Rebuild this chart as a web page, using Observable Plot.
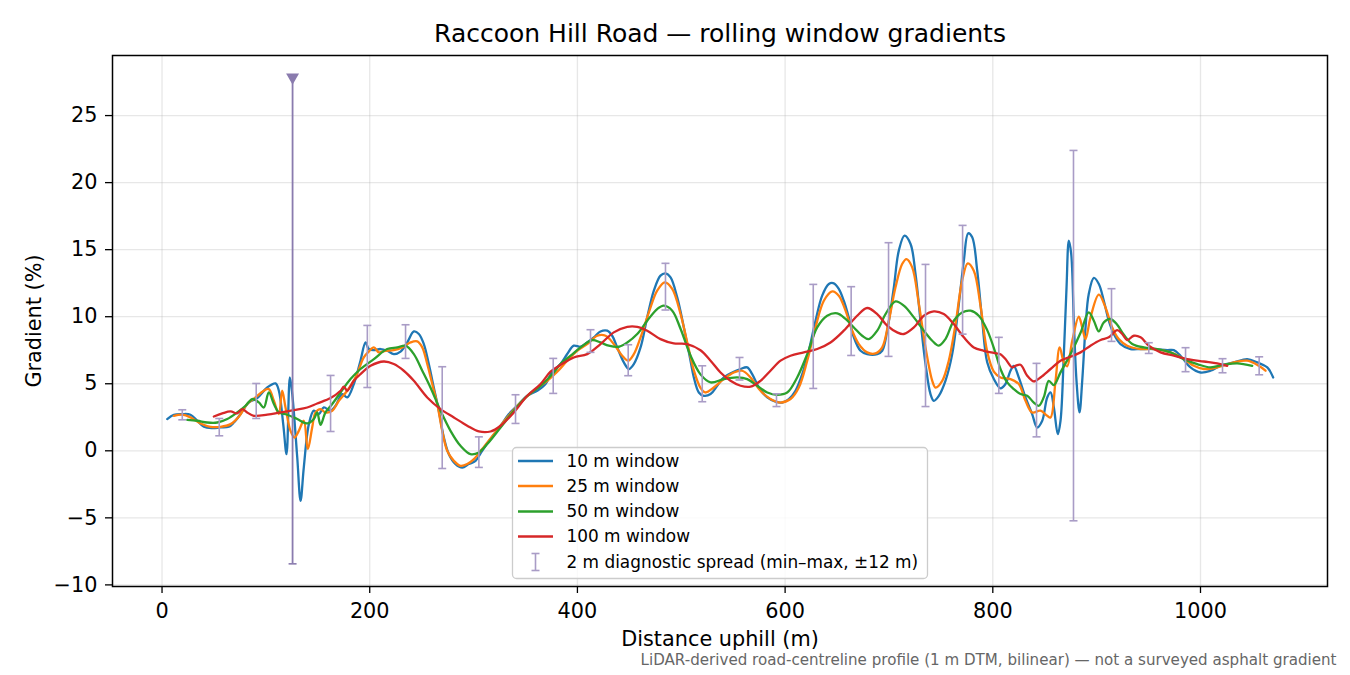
<!DOCTYPE html>
<html>
<head>
<meta charset="utf-8">
<script src="https://cdn.jsdelivr.net/npm/d3@7"></script>
<script src="https://cdn.jsdelivr.net/npm/@observablehq/plot@0.6"></script>
<style>
  html, body { margin: 0; padding: 0; background: #fff; }
  #wrap { position: relative; width: 1350px; height: 675px; font-family: "DejaVu Sans", sans-serif; }
  #legend { position: absolute; left: 0; top: 0; pointer-events: none; }
</style>
</head>
<body>
<div id="wrap"></div>
<script>
// ---------- data (distance m, gradient %) ----------
const w10 = [[5.0,2.37],[11.4,2.69],[19.5,2.74],[27.4,2.69],[33.9,2.24],[40.3,1.79],[48.3,1.69],[56.3,1.74],[64.3,1.79],[69.2,2.11],[75.6,2.74],[83.6,3.61],[91.7,3.93],[101.3,4.72],[109.3,5.03],[112.5,4.48],[116.7,1.99],[119.9,-0.25],[123.1,5.47],[125.4,4.23],[130.2,-0.5],[133.4,-3.73],[136.5,-1.25],[141.4,1.99],[146.2,2.99],[151,2.74],[155.8,3.23],[162.3,2.99],[167.1,3.36],[173.5,4.23],[178.3,3.98],[184.7,4.98],[191.1,6.72],[196,8.08],[199.1,7.59],[204,7.51],[210.4,7.59],[216.8,7.46],[223.2,7.21],[229.7,7.4],[236.1,8.08],[242.5,8.9],[247.3,8.71],[252.1,7.96],[256.9,6.47],[261.7,4.72],[266.5,2.99],[271.4,0.99],[276.2,-0.25],[282.6,-0.99],[289.1,-1.25],[295.4,-0.99],[301.9,-0.75],[308.3,0],[316.3,0.87],[326,1.87],[334,2.74],[342,3.36],[351.7,4.1],[361.3,4.48],[369.3,4.98],[375.7,5.9],[383.7,6.47],[390,7.2],[396.5,7.84],[403,7.76],[409.4,8.08],[415.8,8.46],[422.2,8.9],[428.7,8.96],[433.5,8.58],[438.3,7.71],[444.7,6.59],[449.5,6.1],[454.3,6.47],[460.8,7.71],[467.2,9.95],[473.6,11.94],[480,13.06],[484.8,13.23],[489.7,12.93],[496.1,11.44],[502.5,9.2],[508.9,6.72],[512.1,5.47],[516.9,4.35],[521.7,4.1],[528.2,4.23],[534.6,4.85],[541,5.47],[549.1,5.84],[557.1,6.1],[563.5,6.22],[568.3,5.72],[574.7,4.72],[582.8,3.98],[590.8,3.66],[597.2,3.6],[603.6,3.86],[610,4.48],[616.5,5.72],[622.8,7.46],[629.3,9.7],[635.7,11.57],[642.1,12.44],[646.9,12.49],[651.7,12.07],[656.5,11.19],[661.3,9.95],[666.2,8.46],[672.6,7.46],[679,7.21],[688.7,7.21],[693.5,7.46],[698.3,8.96],[704.7,12.19],[709.5,14.93],[715,16.04],[720.8,15.42],[725.6,13.18],[730.4,9.7],[735.2,6.47],[740,4.23],[743.2,3.73],[748,4.1],[754.4,5.22],[760.9,7.21],[767.3,10.95],[772.1,14.18],[776.3,16.22],[780.2,15.92],[785,13.43],[789.8,9.7],[794.6,6.6],[801,5.35],[807.4,4.66],[812.2,4.98],[817,5.97],[820.2,6.34],[825,5.47],[831.5,3.98],[837.9,2.74],[842.7,1.74],[847.6,2.24],[852.4,3.98],[855.6,4.35],[858.8,3.23],[862.6,1.24],[865.2,2.24],[868.4,7.21],[871,12.19],[873.2,15.67],[875.5,14.68],[878,9.7],[880.6,5.22],[883.5,2.86],[886.1,5.22],[889.3,9.2],[892.4,11.69],[897.3,12.89],[902.1,12.44],[906.9,11.19],[911.7,9.7],[916.5,8.71],[923,7.96],[932.6,7.59],[942.3,7.59],[955,7.59],[968,7.51],[974.3,7.51],[980.7,7.09],[990.4,6.22],[1000,5.84],[1009.6,5.97],[1019.3,6.34],[1032,6.59],[1045,6.84],[1054.7,6.59],[1064.3,6.22],[1070,5.47]];

const w25 = [[11.4,2.61],[19.5,2.69],[27.4,2.49],[37.1,2.04],[46.7,1.79],[56.3,1.79],[66,1.99],[73.9,2.54],[82,3.49],[90,3.98],[98,4.48],[102.8,4.6],[107.7,3.73],[112.5,2.74],[115.7,4.48],[118.9,3.23],[123.7,1.49],[127.6,0.99],[131.7,1.49],[136.5,2.24],[140.4,0.13],[144.6,1.74],[147.8,2.86],[152.6,3.11],[157.4,2.86],[163.9,2.99],[170.3,3.73],[178.3,4.48],[186.3,5.47],[194.3,6.96],[199.1,7.4],[204,7.71],[208.8,7.34],[215.2,7.46],[223.2,7.51],[231.3,7.71],[239.3,8.08],[245.7,8.16],[250.6,7.71],[255.4,6.47],[260.2,4.98],[265,3.49],[269.8,1.49],[274.6,0],[281,-0.75],[287.4,-1.12],[293.9,-0.99],[300.3,-0.62],[308.3,0.13],[319.5,1.24],[332.4,2.49],[345.2,3.6],[358,4.48],[370.9,5.22],[380.6,5.9],[390.2,6.72],[399.8,7.46],[409.4,7.96],[419.1,8.58],[427.1,8.58],[435,7.96],[443.1,7.09],[448.9,6.72],[454.3,7.21],[460.8,8.46],[468.8,10.32],[476.8,11.94],[484.2,12.56],[491.3,12.07],[499.3,10.2],[505.7,8.1],[512.1,6.0],[518.5,4.7],[523.3,4.35],[531.3,4.72],[541,5.35],[550.6,5.84],[558.7,5.97],[566.7,5.47],[576.3,4.48],[585.9,3.86],[595.6,3.6],[605.2,3.86],[613.2,4.72],[621.3,6.72],[629.3,9.2],[637.3,11.19],[645.4,11.89],[651.7,11.57],[658.2,10.45],[664.6,8.96],[671,7.96],[679,7.34],[687,7.26],[693.5,7.71],[699.9,9.7],[706.3,12.19],[712.7,13.93],[716.9,14.3],[722.4,13.68],[728.8,10.95],[735.2,7.71],[741.7,5.22],[744.8,4.72],[751.3,5.22],[757.6,6.72],[764.1,9.45],[770.5,12.69],[775.9,13.98],[781.7,13.43],[788.2,10.8],[794.6,7.4],[801,5.9],[807.4,5.47],[817,5.35],[825,4.98],[831.5,3.73],[837.9,2.86],[845.9,2.99],[852.4,2.61],[855.6,2.49],[860.4,5.22],[864.4,7.71],[868.4,6.6],[871.6,6.3],[876.5,8.2],[882.8,10.0],[886.1,9.2],[889.3,8.33],[894.1,9.95],[902.1,11.64],[908.5,10.69],[915,9.2],[921.3,8.33],[929.4,7.84],[942.3,7.59],[955,7.59],[971.1,7.34],[983.9,6.84],[993.6,6.34],[1003.2,6.1],[1016.1,6.22],[1032,6.59],[1045,6.72],[1056.2,6.34],[1062.6,5.97]];

const w50 = [[24.3,2.31],[33.9,2.24],[43.5,2.11],[53.2,2.11],[62.8,2.37],[72.4,2.86],[80.4,3.36],[86.9,3.86],[93.2,3.61],[98,3.23],[102.8,4.35],[107.7,3.49],[112.5,2.86],[120.6,2.69],[130.2,2.37],[139.8,2.04],[146.2,2.37],[149.4,2.86],[152.6,1.94],[157.4,2.86],[163.9,3.49],[171.9,4.35],[181.5,5.35],[191.1,6.1],[204,6.84],[216.8,7.59],[226.5,7.71],[234.5,7.84],[242.5,7.21],[250.6,5.97],[258.5,4.72],[268.2,2.99],[277.8,1.49],[287.4,0.37],[297,-0.25],[305.1,-0.12],[313.1,0.5],[326,1.74],[338.8,2.99],[351.7,4.1],[364.5,4.85],[377.3,5.84],[383.7,6.47],[393.4,7.09],[403,7.71],[414.2,8.26],[422.2,8.08],[430.2,7.84],[439.9,7.76],[448,8.08],[457.6,8.71],[467.2,9.7],[476.8,10.57],[483.2,10.82],[491.3,10.45],[499.3,9.1],[508.9,7.1],[518.5,5.7],[528.2,5.1],[541,5.35],[553.9,5.47],[563.5,5.35],[573.1,4.85],[582.8,4.35],[592.4,4.18],[602,4.35],[611.6,5.47],[621.3,7.21],[630.9,9.2],[640.5,10.07],[650.2,10.25],[658.2,9.83],[666.2,9.2],[674.2,8.58],[680.6,8.33],[688.7,8.96],[696.7,10.2],[706.3,11.14],[714.3,10.82],[724,9.95],[733.6,8.96],[741.7,8.21],[748,7.84],[754.4,8.33],[762.4,9.7],[770.5,10.32],[778.5,10.45],[786.5,10.07],[794.6,9.0],[802.6,7.3],[807.4,6.1],[813.9,5.1],[820.2,4.6],[826.7,4.23],[833.1,4.1],[839.5,3.6],[844.3,3.36],[849.1,4.0],[853.9,5.22],[858.8,4.9],[865.2,5.85],[874.8,7.21],[884.5,8.8],[892.4,10.32],[897.3,9.7],[902.1,8.9],[906.9,9.58],[913.4,9.83],[919.8,9.4],[926.2,8.65],[934.3,7.96],[945.4,7.71],[958.3,7.59],[971.1,7.34],[983.9,6.84],[996.8,6.47],[1009.6,6.22],[1022.5,6.42],[1035.3,6.52],[1049.8,6.34]];

const w100 = [[49.9,2.56],[58,2.79],[66,2.94],[72.4,2.79],[77.2,3.11],[82,2.86],[88.4,2.61],[101.3,2.69],[114.1,2.86],[126.9,3.04],[139.8,3.23],[149.4,3.53],[162.3,3.93],[171.9,4.48],[175.1,4.78],[178.3,4.48],[184.7,5.22],[191.1,5.72],[200.8,6.34],[213.6,6.66],[223.2,6.47],[232.8,5.97],[242.5,5.22],[255.4,3.98],[268.2,3.11],[281,2.49],[293.9,1.87],[305.1,1.44],[316.3,1.44],[326,1.87],[338.8,2.86],[351.7,4.1],[364.5,4.98],[374.1,5.9],[383.7,6.4],[396.5,6.96],[409.4,7.21],[422.2,7.96],[435,8.83],[448,9.25],[457.6,9.25],[467.2,8.96],[480,8.33],[492.8,8.01],[505.7,7.96],[518.5,7.5],[528.2,6.72],[537.8,5.84],[547.4,5.22],[557.1,4.85],[566.7,4.78],[576.3,5.22],[585.9,5.97],[595.6,6.72],[605.2,7.09],[618,7.34],[630.9,7.59],[643.7,8.08],[656.5,8.96],[669.4,10.07],[679,10.65],[688.7,10.2],[698.3,9.33],[707.9,8.83],[714.3,8.71],[724,9.2],[733.6,10.07],[743.2,10.4],[752.8,10.2],[762.4,9.45],[772.1,8.46],[781.7,7.71],[791.3,7.46],[801,7.3],[807.4,7.2],[812.2,6.84],[818.7,6.22],[821.9,6.34],[826.7,6.42],[833.1,5.6],[839.5,5.17],[845.9,5.47],[855.6,6.1],[865.2,6.72],[874.8,7.01],[884.5,7.34],[894.1,7.84],[903.8,8.26],[911.7,8.46],[919.8,9.0],[924.6,8.71],[929.4,8.26],[935.8,8.58],[942.3,8.46],[950.2,7.84],[961.5,7.34],[974.3,7.09],[987.2,6.84],[1003.2,6.66],[1016.1,6.52],[1025.7,6.34]];

// 2 m diagnostic spread: [distance, min, max]
const spread2m = [[19.5,2.31,3.06],[55.1,1.12,2.41],[90.7,2.41,5.02],[162.3,1.44,5.62],[197.7,4.72,9.35],[234.5,6.89,9.4],[269.8,-1.32,6.27],[305.1,-1.24,1.04],[340.4,2.04,4.18],[376.7,4.28,6.89],[412.6,7.34,9.03],[448.9,5.6,7.91],[484.8,10.5,13.98],[520.2,3.66,6.34],[556.1,5.28,6.96],[591.7,3.3,4.25],[627.1,4.65,12.41],[663.6,7.11,12.24],[699.6,7.04,15.52],[735.2,3.3,13.9],[770.9,8.7,16.81],[805.8,4.28,8.46],[842.1,1.04,6.52],[877.7,-5.22,22.4],[914.3,8.16,12.09],[950.2,7.26,8.06],[985.6,5.9,7.69],[1021.2,5.82,6.87],[1056.5,5.67,7.01]];
// spread whose max runs off the top of the axis: [distance, min, marker level]
const spread2mClipped = [[125.7,-8.43,27.85]];

const seriesNames = ["10 m window", "25 m window", "50 m window", "100 m window"];
const seriesColors = ["#1f77b4", "#ff7f0e", "#2ca02c", "#d62728"];
const spreadLabel = "2 m diagnostic spread (min\u2013max, \u00b112 m)";
const xTicks = [0, 200, 400, 600, 800, 1000];
const yTicks = [-10, -5, 0, 5, 10, 15, 20, 25];
const titleText = "Raccoon Hill Road \u2014 rolling window gradients";
const xLabel = "Distance uphill (m)";
const yLabel = "Gradient (%)";
const captionText = "LiDAR-derived road-centreline profile (1 m DTM, bilinear) \u2014 not a surveyed asphalt gradient";

// ---------- build ----------
const toRows = (arr) => arr.map(([d, g]) => ({d, g}));
const spreadRows = spread2m.map(([d, lo, hi]) => ({d, lo, hi}));
const clippedRows = spread2mClipped.map(([d, lo, hi]) => ({d, lo, hi}));

const spreadColor = "#a99cc6";
const spreadDark = "#8a7bae";
const capSymbol = { draw(ctx, size) { const r = Math.sqrt(size / Math.PI); ctx.moveTo(-r, 0); ctx.lineTo(r, 0); } };
const fmt = (d) => d < 0 ? "\u2212" + Math.abs(d) : String(d);

const W = 1350, H = 675;
const ML = 112, MR = 23, MT = 55, MB = 89;
const FONT = "DejaVu Sans";

const lineMarks = [w10, w25, w50, w100].map((s, i) =>
  Plot.line(toRows(s), {x: "d", y: "g", stroke: seriesColors[i], strokeWidth: 2.3, curve: "catmull-rom"})
);

const chart = Plot.plot({
  width: W, height: H,
  marginLeft: ML, marginRight: MR, marginTop: MT, marginBottom: MB,
  style: {fontFamily: FONT, background: "white", overflow: "visible", color: "black"},
  x: {domain: [-47.7, 1122.3]},
  y: {domain: [-10.12, 29.48]},
  marks: [
    Plot.gridX(xTicks, {stroke: "#b0b0b0", strokeOpacity: 0.3, strokeWidth: 1.3}),
    Plot.gridY(yTicks, {stroke: "#b0b0b0", strokeOpacity: 0.3, strokeWidth: 1.3}),
    ...lineMarks,
    Plot.ruleX(spreadRows, {x: "d", y1: "lo", y2: "hi", stroke: spreadColor, strokeWidth: 1.6}),
    Plot.dot(spreadRows, {x: "d", y: "lo", symbol: capSymbol, r: 4, stroke: spreadColor, strokeWidth: 1.6, fill: "none"}),
    Plot.dot(spreadRows, {x: "d", y: "hi", symbol: capSymbol, r: 4, stroke: spreadColor, strokeWidth: 1.6, fill: "none"}),
    Plot.ruleX(clippedRows, {x: "d", y1: "lo", y2: "hi", stroke: spreadDark, strokeWidth: 1.8}),
    Plot.dot(clippedRows, {x: "d", y: "lo", symbol: capSymbol, r: 4, stroke: spreadDark, strokeWidth: 1.6, fill: "none"}),
    Plot.dot(clippedRows, {x: "d", y: "hi", symbol: d3.symbolTriangle, r: 4.8, rotate: 180, fill: spreadDark, stroke: "none"}),
    Plot.frame({stroke: "black", strokeWidth: 1.5}),
    Plot.axisX(xTicks, {tickSize: 7, tickPadding: 10, fontSize: 20.8, label: null, tickFormat: fmt, strokeWidth: 1.3}),
    Plot.axisY(yTicks, {tickSize: 7, tickPadding: 8, fontSize: 20.8, label: null, tickFormat: fmt, strokeWidth: 1.3}),
    Plot.text([titleText], {frameAnchor: "top", dy: -22, textAnchor: "middle", lineAnchor: "middle", text: d => d, fontSize: 25, fill: "black"}),
    Plot.text([xLabel], {frameAnchor: "bottom", dy: 53, textAnchor: "middle", lineAnchor: "middle", text: d => d, fontSize: 20.8, fill: "black"}),
    Plot.text([yLabel], {frameAnchor: "left", dx: -78, rotate: -90, textAnchor: "middle", lineAnchor: "middle", text: d => d, fontSize: 20.8, fill: "black"}),
    Plot.text([captionText], {frameAnchor: "bottom-right", dx: 9, dy: 74, textAnchor: "end", lineAnchor: "middle", text: d => d, fontSize: 15.1, fill: "#666666"})
  ]
});

const wrap = document.getElementById("wrap");
wrap.appendChild(chart);

// ---------- legend (decoration, page coordinates) ----------
const lg = d3.select(wrap).append("svg").attr("id", "legend").attr("width", W).attr("height", H)
  .style("font-family", FONT);
const box = {x: 512, y: 447, w: 415, h: 131};
lg.append("rect").attr("x", box.x + 0.5).attr("y", box.y + 0.5).attr("width", box.w).attr("height", box.h)
  .attr("rx", 4).attr("fill", "white").attr("fill-opacity", 0.8).attr("stroke", "#cccccc").attr("stroke-width", 1.3);
const rowY = [461, 486, 511.5, 536.5, 562];
seriesNames.forEach((name, i) => {
  lg.append("line").attr("x1", 518).attr("x2", 553).attr("y1", rowY[i]).attr("y2", rowY[i])
    .attr("stroke", seriesColors[i]).attr("stroke-width", 2.3);
  lg.append("text").attr("x", 566.5).attr("y", rowY[i]).attr("dy", "0.35em").attr("font-size", 16.9).text(name);
});
const ey = rowY[4];
lg.append("line").attr("x1", 535.5).attr("x2", 535.5).attr("y1", ey - 8.5).attr("y2", ey + 8.5).attr("stroke", spreadColor).attr("stroke-width", 1.6);
lg.append("line").attr("x1", 531.5).attr("x2", 539.5).attr("y1", ey - 8.5).attr("y2", ey - 8.5).attr("stroke", spreadColor).attr("stroke-width", 1.6);
lg.append("line").attr("x1", 531.5).attr("x2", 539.5).attr("y1", ey + 8.5).attr("y2", ey + 8.5).attr("stroke", spreadColor).attr("stroke-width", 1.6);
lg.append("text").attr("x", 566.5).attr("y", ey).attr("dy", "0.35em").attr("font-size", 16.9).text(spreadLabel);
</script>
</body>
</html>
